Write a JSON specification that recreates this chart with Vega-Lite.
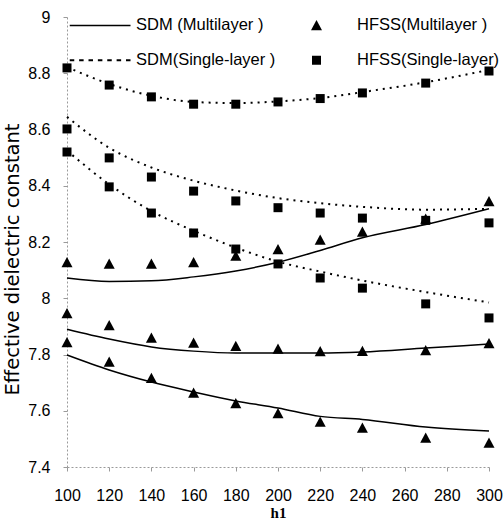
{
  "$schema": "https://vega.github.io/schema/vega-lite/v6.json",
  "width": 422,
  "height": 450,
  "autosize": {"type": "none"},
  "padding": {"left": 67, "top": 17, "right": 15, "bottom": 52},
  "background": "white",
  "config": {
    "view": {"stroke": null},
    "axis": {
      "grid": false,
      "labelFont": "Liberation Sans",
      "labelFontSize": 16,
      "labelColor": "black",
      "labelFlush": false,
      "domainColor": "#9a9a9a",
      "domainDash": [2, 2],
      "tickColor": "#9a9a9a",
      "tickSize": 4,
      "titleColor": "black"
    }
  },
  "data": {
    "values": [
      {"h1": 100, "eps": 8.072, "curve": "SM1", "series": "SDM (Multilayer )"},
      {"h1": 120, "eps": 8.06, "curve": "SM1", "series": "SDM (Multilayer )"},
      {"h1": 140, "eps": 8.062, "curve": "SM1", "series": "SDM (Multilayer )"},
      {"h1": 160, "eps": 8.076, "curve": "SM1", "series": "SDM (Multilayer )"},
      {"h1": 180, "eps": 8.097, "curve": "SM1", "series": "SDM (Multilayer )"},
      {"h1": 200, "eps": 8.128, "curve": "SM1", "series": "SDM (Multilayer )"},
      {"h1": 220, "eps": 8.17, "curve": "SM1", "series": "SDM (Multilayer )"},
      {"h1": 240, "eps": 8.215, "curve": "SM1", "series": "SDM (Multilayer )"},
      {"h1": 270, "eps": 8.262, "curve": "SM1", "series": "SDM (Multilayer )"},
      {"h1": 300, "eps": 8.318, "curve": "SM1", "series": "SDM (Multilayer )"},
      {"h1": 100, "eps": 7.89, "curve": "SM2", "series": "SDM (Multilayer )"},
      {"h1": 120, "eps": 7.855, "curve": "SM2", "series": "SDM (Multilayer )"},
      {"h1": 140, "eps": 7.827, "curve": "SM2", "series": "SDM (Multilayer )"},
      {"h1": 160, "eps": 7.812, "curve": "SM2", "series": "SDM (Multilayer )"},
      {"h1": 180, "eps": 7.805, "curve": "SM2", "series": "SDM (Multilayer )"},
      {"h1": 200, "eps": 7.805, "curve": "SM2", "series": "SDM (Multilayer )"},
      {"h1": 220, "eps": 7.805, "curve": "SM2", "series": "SDM (Multilayer )"},
      {"h1": 240, "eps": 7.809, "curve": "SM2", "series": "SDM (Multilayer )"},
      {"h1": 270, "eps": 7.823, "curve": "SM2", "series": "SDM (Multilayer )"},
      {"h1": 300, "eps": 7.837, "curve": "SM2", "series": "SDM (Multilayer )"},
      {"h1": 100, "eps": 7.798, "curve": "SM3", "series": "SDM (Multilayer )"},
      {"h1": 120, "eps": 7.745, "curve": "SM3", "series": "SDM (Multilayer )"},
      {"h1": 140, "eps": 7.702, "curve": "SM3", "series": "SDM (Multilayer )"},
      {"h1": 160, "eps": 7.667, "curve": "SM3", "series": "SDM (Multilayer )"},
      {"h1": 180, "eps": 7.635, "curve": "SM3", "series": "SDM (Multilayer )"},
      {"h1": 200, "eps": 7.61, "curve": "SM3", "series": "SDM (Multilayer )"},
      {"h1": 220, "eps": 7.58, "curve": "SM3", "series": "SDM (Multilayer )"},
      {"h1": 240, "eps": 7.569, "curve": "SM3", "series": "SDM (Multilayer )"},
      {"h1": 270, "eps": 7.542, "curve": "SM3", "series": "SDM (Multilayer )"},
      {"h1": 300, "eps": 7.528, "curve": "SM3", "series": "SDM (Multilayer )"},
      {"h1": 100, "eps": 8.127, "curve": "HM1", "series": "HFSS(Multilayer )"},
      {"h1": 120, "eps": 8.122, "curve": "HM1", "series": "HFSS(Multilayer )"},
      {"h1": 140, "eps": 8.122, "curve": "HM1", "series": "HFSS(Multilayer )"},
      {"h1": 160, "eps": 8.127, "curve": "HM1", "series": "HFSS(Multilayer )"},
      {"h1": 180, "eps": 8.15, "curve": "HM1", "series": "HFSS(Multilayer )"},
      {"h1": 200, "eps": 8.173, "curve": "HM1", "series": "HFSS(Multilayer )"},
      {"h1": 220, "eps": 8.207, "curve": "HM1", "series": "HFSS(Multilayer )"},
      {"h1": 240, "eps": 8.236, "curve": "HM1", "series": "HFSS(Multilayer )"},
      {"h1": 270, "eps": 8.282, "curve": "HM1", "series": "HFSS(Multilayer )"},
      {"h1": 300, "eps": 8.344, "curve": "HM1", "series": "HFSS(Multilayer )"},
      {"h1": 100, "eps": 7.946, "curve": "HM2", "series": "HFSS(Multilayer )"},
      {"h1": 120, "eps": 7.903, "curve": "HM2", "series": "HFSS(Multilayer )"},
      {"h1": 140, "eps": 7.859, "curve": "HM2", "series": "HFSS(Multilayer )"},
      {"h1": 160, "eps": 7.841, "curve": "HM2", "series": "HFSS(Multilayer )"},
      {"h1": 180, "eps": 7.829, "curve": "HM2", "series": "HFSS(Multilayer )"},
      {"h1": 200, "eps": 7.82, "curve": "HM2", "series": "HFSS(Multilayer )"},
      {"h1": 220, "eps": 7.811, "curve": "HM2", "series": "HFSS(Multilayer )"},
      {"h1": 240, "eps": 7.812, "curve": "HM2", "series": "HFSS(Multilayer )"},
      {"h1": 270, "eps": 7.814, "curve": "HM2", "series": "HFSS(Multilayer )"},
      {"h1": 300, "eps": 7.839, "curve": "HM2", "series": "HFSS(Multilayer )"},
      {"h1": 100, "eps": 7.843, "curve": "HM3", "series": "HFSS(Multilayer )"},
      {"h1": 120, "eps": 7.773, "curve": "HM3", "series": "HFSS(Multilayer )"},
      {"h1": 140, "eps": 7.716, "curve": "HM3", "series": "HFSS(Multilayer )"},
      {"h1": 160, "eps": 7.663, "curve": "HM3", "series": "HFSS(Multilayer )"},
      {"h1": 180, "eps": 7.626, "curve": "HM3", "series": "HFSS(Multilayer )"},
      {"h1": 200, "eps": 7.59, "curve": "HM3", "series": "HFSS(Multilayer )"},
      {"h1": 220, "eps": 7.56, "curve": "HM3", "series": "HFSS(Multilayer )"},
      {"h1": 240, "eps": 7.539, "curve": "HM3", "series": "HFSS(Multilayer )"},
      {"h1": 270, "eps": 7.503, "curve": "HM3", "series": "HFSS(Multilayer )"},
      {"h1": 300, "eps": 7.485, "curve": "HM3", "series": "HFSS(Multilayer )"},
      {"h1": 100, "eps": 8.822, "curve": "SS1", "series": "SDM(Single-layer )"},
      {"h1": 120, "eps": 8.762, "curve": "SS1", "series": "SDM(Single-layer )"},
      {"h1": 140, "eps": 8.72, "curve": "SS1", "series": "SDM(Single-layer )"},
      {"h1": 160, "eps": 8.698, "curve": "SS1", "series": "SDM(Single-layer )"},
      {"h1": 180, "eps": 8.694, "curve": "SS1", "series": "SDM(Single-layer )"},
      {"h1": 200, "eps": 8.7, "curve": "SS1", "series": "SDM(Single-layer )"},
      {"h1": 220, "eps": 8.712, "curve": "SS1", "series": "SDM(Single-layer )"},
      {"h1": 240, "eps": 8.733, "curve": "SS1", "series": "SDM(Single-layer )"},
      {"h1": 270, "eps": 8.768, "curve": "SS1", "series": "SDM(Single-layer )"},
      {"h1": 300, "eps": 8.812, "curve": "SS1", "series": "SDM(Single-layer )"},
      {"h1": 100, "eps": 8.645, "curve": "SS2", "series": "SDM(Single-layer )"},
      {"h1": 120, "eps": 8.535, "curve": "SS2", "series": "SDM(Single-layer )"},
      {"h1": 140, "eps": 8.465, "curve": "SS2", "series": "SDM(Single-layer )"},
      {"h1": 160, "eps": 8.418, "curve": "SS2", "series": "SDM(Single-layer )"},
      {"h1": 180, "eps": 8.383, "curve": "SS2", "series": "SDM(Single-layer )"},
      {"h1": 200, "eps": 8.356, "curve": "SS2", "series": "SDM(Single-layer )"},
      {"h1": 220, "eps": 8.338, "curve": "SS2", "series": "SDM(Single-layer )"},
      {"h1": 240, "eps": 8.325, "curve": "SS2", "series": "SDM(Single-layer )"},
      {"h1": 270, "eps": 8.315, "curve": "SS2", "series": "SDM(Single-layer )"},
      {"h1": 300, "eps": 8.318, "curve": "SS2", "series": "SDM(Single-layer )"},
      {"h1": 100, "eps": 8.525, "curve": "SS3", "series": "SDM(Single-layer )"},
      {"h1": 120, "eps": 8.405, "curve": "SS3", "series": "SDM(Single-layer )"},
      {"h1": 140, "eps": 8.31, "curve": "SS3", "series": "SDM(Single-layer )"},
      {"h1": 160, "eps": 8.24, "curve": "SS3", "series": "SDM(Single-layer )"},
      {"h1": 180, "eps": 8.18, "curve": "SS3", "series": "SDM(Single-layer )"},
      {"h1": 200, "eps": 8.13, "curve": "SS3", "series": "SDM(Single-layer )"},
      {"h1": 220, "eps": 8.095, "curve": "SS3", "series": "SDM(Single-layer )"},
      {"h1": 240, "eps": 8.063, "curve": "SS3", "series": "SDM(Single-layer )"},
      {"h1": 270, "eps": 8.022, "curve": "SS3", "series": "SDM(Single-layer )"},
      {"h1": 300, "eps": 7.985, "curve": "SS3", "series": "SDM(Single-layer )"},
      {"h1": 100, "eps": 8.819, "curve": "HS1", "series": "HFSS(Single-layer)"},
      {"h1": 120, "eps": 8.758, "curve": "HS1", "series": "HFSS(Single-layer)"},
      {"h1": 140, "eps": 8.716, "curve": "HS1", "series": "HFSS(Single-layer)"},
      {"h1": 160, "eps": 8.69, "curve": "HS1", "series": "HFSS(Single-layer)"},
      {"h1": 180, "eps": 8.69, "curve": "HS1", "series": "HFSS(Single-layer)"},
      {"h1": 200, "eps": 8.698, "curve": "HS1", "series": "HFSS(Single-layer)"},
      {"h1": 220, "eps": 8.71, "curve": "HS1", "series": "HFSS(Single-layer)"},
      {"h1": 240, "eps": 8.73, "curve": "HS1", "series": "HFSS(Single-layer)"},
      {"h1": 270, "eps": 8.765, "curve": "HS1", "series": "HFSS(Single-layer)"},
      {"h1": 300, "eps": 8.808, "curve": "HS1", "series": "HFSS(Single-layer)"},
      {"h1": 100, "eps": 8.602, "curve": "HS2", "series": "HFSS(Single-layer)"},
      {"h1": 120, "eps": 8.499, "curve": "HS2", "series": "HFSS(Single-layer)"},
      {"h1": 140, "eps": 8.431, "curve": "HS2", "series": "HFSS(Single-layer)"},
      {"h1": 160, "eps": 8.381, "curve": "HS2", "series": "HFSS(Single-layer)"},
      {"h1": 180, "eps": 8.346, "curve": "HS2", "series": "HFSS(Single-layer)"},
      {"h1": 200, "eps": 8.322, "curve": "HS2", "series": "HFSS(Single-layer)"},
      {"h1": 220, "eps": 8.303, "curve": "HS2", "series": "HFSS(Single-layer)"},
      {"h1": 240, "eps": 8.285, "curve": "HS2", "series": "HFSS(Single-layer)"},
      {"h1": 270, "eps": 8.277, "curve": "HS2", "series": "HFSS(Single-layer)"},
      {"h1": 300, "eps": 8.268, "curve": "HS2", "series": "HFSS(Single-layer)"},
      {"h1": 100, "eps": 8.52, "curve": "HS3", "series": "HFSS(Single-layer)"},
      {"h1": 120, "eps": 8.396, "curve": "HS3", "series": "HFSS(Single-layer)"},
      {"h1": 140, "eps": 8.303, "curve": "HS3", "series": "HFSS(Single-layer)"},
      {"h1": 160, "eps": 8.232, "curve": "HS3", "series": "HFSS(Single-layer)"},
      {"h1": 180, "eps": 8.175, "curve": "HS3", "series": "HFSS(Single-layer)"},
      {"h1": 200, "eps": 8.122, "curve": "HS3", "series": "HFSS(Single-layer)"},
      {"h1": 220, "eps": 8.072, "curve": "HS3", "series": "HFSS(Single-layer)"},
      {"h1": 240, "eps": 8.036, "curve": "HS3", "series": "HFSS(Single-layer)"},
      {"h1": 270, "eps": 7.98, "curve": "HS3", "series": "HFSS(Single-layer)"},
      {"h1": 300, "eps": 7.93, "curve": "HS3", "series": "HFSS(Single-layer)"}
    ]
  },
  "encoding": {
    "x": {
      "field": "h1",
      "type": "quantitative",
      "scale": {"domain": [100, 300], "nice": false},
      "axis": {
        "values": [100, 120, 140, 160, 180, 200, 220, 240, 260, 280, 300],
        "title": "h1",
        "labelPadding": 16,
        "titleFont": "Liberation Serif",
        "titleFontSize": 15,
        "titleFontWeight": "bold",
        "titlePadding": 2
      }
    },
    "y": {
      "field": "eps",
      "type": "quantitative",
      "scale": {"domain": [7.4, 9], "nice": false, "zero": false},
      "axis": {
        "values": [7.4, 7.6, 7.8, 8, 8.2, 8.4, 8.6, 8.8, 9],
        "format": "~g",
        "title": "Effective dielectric constant",
        "labelPadding": 13,
        "titleFont": "DejaVu Sans",
        "titleFontSize": 19.5,
        "titleFontWeight": "normal",
        "titlePadding": 5,
        "titleY": 242
      }
    }
  },
  "resolve": {"scale": {"shape": "independent"}},
  "layer": [
    {
      "transform": [{"filter": {"field": "series", "equal": "SDM (Multilayer )"}}],
      "mark": {"type": "line", "color": "black", "strokeWidth": 1.5, "interpolate": "monotone"},
      "encoding": {"detail": {"field": "curve"}}
    },
    {
      "transform": [{"filter": {"field": "series", "equal": "SDM(Single-layer )"}}],
      "mark": {"type": "line", "color": "black", "strokeWidth": 2, "strokeDash": [2, 5], "interpolate": "monotone"},
      "encoding": {"detail": {"field": "curve"}}
    },
    {
      "transform": [{"filter": {"field": "series", "oneOf": ["HFSS(Multilayer )", "HFSS(Single-layer)"]}}],
      "mark": {"type": "point", "filled": true, "color": "black", "opacity": 0, "size": 100},
      "encoding": {
        "shape": {
          "field": "series",
          "type": "nominal",
          "scale": {
            "domain": ["SDM (Multilayer )", "SDM(Single-layer )", "HFSS(Multilayer )", "HFSS(Single-layer)"],
            "range": [
              "M-1.1,-0.15H11.05V0.15H-1.1Z",
              "M-1.1,-0.2H-0.2V0.2H-1.1ZM0.775,-0.2H1.675V0.2H0.775ZM2.65,-0.2H3.55V0.2H2.65ZM4.525,-0.2H5.425V0.2H4.525ZM6.4,-0.2H7.3V0.2H6.4ZM8.275,-0.2H9.175V0.2H8.275ZM10.15,-0.2H11.05V0.2H10.15Z",
              "M4.05,-1.1L5.15,0.95L2.95,0.95Z",
              "M3.15,-0.9H4.95V0.9H3.15Z"
            ]
          },
          "legend": {
            "orient": "none",
            "legendX": 0,
            "legendY": 0,
            "columns": 2,
            "title": null,
            "symbolSize": 100,
            "labelFont": "Liberation Sans",
            "labelFontSize": 16.5,
            "labelColor": "black",
            "labelOffset": 52.5,
            "labelLimit": 300,
            "columnPadding": 12,
            "rowPadding": 18,
            "symbolOpacity": 1,
            "symbolStrokeWidth": 0,
            "symbolFillColor": "black",
            "encode": {
              "symbols": {
                "update": {
                  "fill": {"value": "black"},
                  "strokeWidth": {"value": 0},
                  "opacity": {"value": 1}
                }
              }
            }
          }
        }
      }
    },
    {
      "transform": [{"filter": {"field": "series", "oneOf": ["HFSS(Multilayer )", "HFSS(Single-layer)"]}}],
      "mark": {"type": "point", "filled": true, "color": "black", "opacity": 1, "size": 100},
      "encoding": {
        "shape": {
          "field": "series",
          "type": "nominal",
          "scale": {
            "domain": ["HFSS(Multilayer )", "HFSS(Single-layer)"],
            "range": ["M0,-1.1L1.1,0.95L-1.1,0.95Z", "M-0.9,-0.9H0.9V0.9H-0.9Z"]
          },
          "legend": null
        }
      }
    }
  ]
}
